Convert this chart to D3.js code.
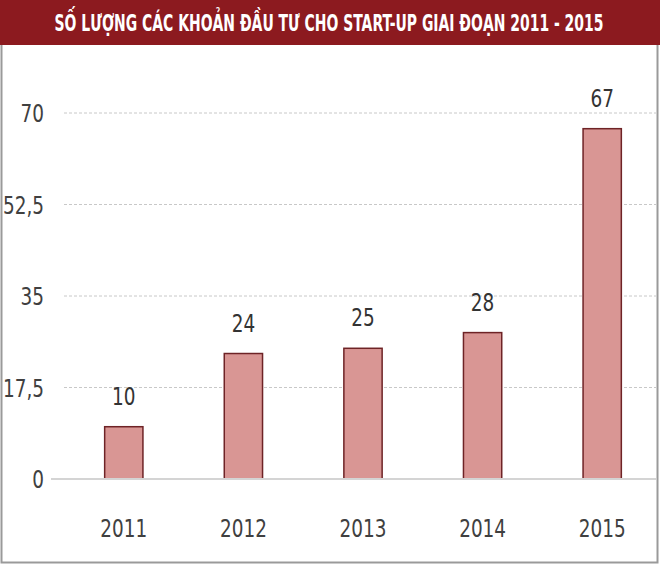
<!DOCTYPE html>
<html>
<head>
<meta charset="utf-8">
<script src="https://cdn.jsdelivr.net/npm/d3@7"></script>
<style>
  body { margin: 0; background: #fff; }
  svg text { font-family: "Liberation Sans Narrow", "Arial Narrow", "DejaVu Sans Condensed", sans-serif; }
</style>
</head>
<body>
<div id="chart"></div>
<script>
// Dati
var title = 'SỐ LƯỢNG CÁC KHOẢN ĐẦU TƯ CHO START-UP GIAI ĐOẠN 2011 - 2015';
var years = ['2011', '2012', '2013', '2014', '2015'];
var counts = [10, 24, 25, 28, 67];
var yTicks = [0, 17.5, 35, 52.5, 70];

var width = 660, height = 565;
var narrow = 'scale(0.82,1)';

var svg = d3.select('#chart').append('svg')
    .attr('width', width)
    .attr('height', height);

// Cornice
svg.append('rect')
    .attr('x', 1.5).attr('y', 40)
    .attr('width', 656).attr('height', 522.5)
    .attr('fill', '#fff')
    .attr('stroke', '#9a9a9a')
    .attr('stroke-width', 2);

// Barra del titolo
svg.append('rect')
    .attr('x', 0).attr('y', 0)
    .attr('width', width).attr('height', 45)
    .attr('fill', '#8c1a1f');
svg.append('g')
    .attr('transform', 'translate(329,31)')
    .append('text')
    .attr('transform', 'scale(0.69,1)')
    .attr('text-anchor', 'middle')
    .attr('fill', '#fff')
    .attr('font-weight', 'bold')
    .attr('font-size', 22.5)
    .text(title);

// Scale
var x = d3.scaleBand()
    .domain(years)
    .range([64, 662])
    .paddingInner(0.68)
    .paddingOuter(0.34);

var y = d3.scaleLinear()
    .domain([0, 70])
    .range([479, 113]);

// Griglia
svg.append('g')
    .selectAll('line')
    .data(yTicks.filter(d => d > 0))
    .enter()
    .append('line')
    .attr('x1', 64).attr('x2', 656)
    .attr('y1', d => y(d)).attr('y2', d => y(d))
    .attr('stroke', '#c8c8c8')
    .attr('stroke-width', 1)
    .attr('stroke-dasharray', '3,2');

// Asse Y
var fmt = d => String(d).replace('.', ',');
var yAxis = svg.append('g')
    .attr('transform', 'translate(44,0)')
    .call(d3.axisLeft(y).tickValues(yTicks).tickFormat(fmt).tickSize(0).tickPadding(0));
yAxis.select('.domain').remove();
yAxis.selectAll('text')
    .attr('x', 0)
    .attr('font-size', 25)
    .attr('fill', '#404040')
    .attr('dy', '0.35em')
    .attr('transform', narrow);

// Barre
svg.append('g')
    .selectAll('rect')
    .data(counts)
    .enter()
    .append('rect')
    .attr('x', (d, i) => x(years[i]))
    .attr('y', d => y(d))
    .attr('width', x.bandwidth())
    .attr('height', d => y(0) - y(d))
    .attr('fill', '#d99694')
    .attr('stroke', '#6e2326')
    .attr('stroke-width', 1.5);

// Linea di base
svg.append('line')
    .attr('x1', 51).attr('x2', 656)
    .attr('y1', y(0)).attr('y2', y(0))
    .attr('stroke', '#d4d4d4')
    .attr('stroke-width', 2);

// Etichette valori
svg.append('g')
    .selectAll('g')
    .data(counts)
    .enter()
    .append('g')
    .attr('transform', (d, i) => 'translate(' + (x(years[i]) + x.bandwidth() / 2) + ',' + (y(d) - 22) + ')')
    .append('text')
    .attr('transform', narrow)
    .attr('text-anchor', 'middle')
    .attr('font-size', 25)
    .attr('fill', '#333')
    .text(d => d);

// Asse X
var xAxis = svg.append('g')
    .attr('transform', 'translate(0,' + y(0) + ')')
    .call(d3.axisBottom(x).tickSize(0).tickPadding(0));
xAxis.select('.domain').remove();
xAxis.selectAll('text')
    .attr('font-size', 25)
    .attr('fill', '#404040')
    .attr('dy', null)
    .attr('y', 0)
    .attr('transform', 'translate(0,58) ' + narrow);
</script>
</body>
</html>
